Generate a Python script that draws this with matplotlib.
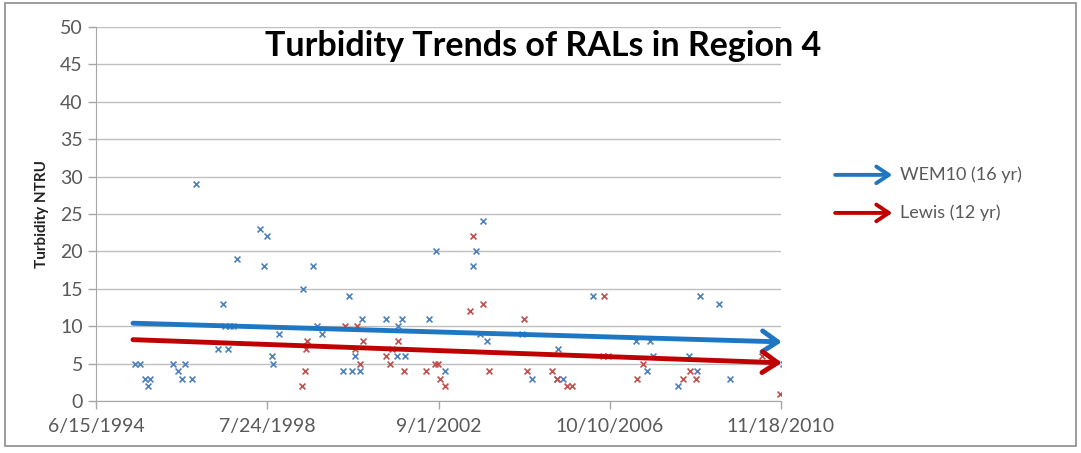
import datetime as dt
import matplotlib
matplotlib.use("Agg")
import matplotlib.pyplot as plt
from matplotlib.patches import Rectangle, FancyArrowPatch

# Datos (fecha en año decimal, turbidez NTU)
wem10_years = [1995.39, 1995.51, 1995.63, 1995.75, 1995.70, 1996.30, 1996.42, 1996.59,
               1996.52, 1996.76, 1996.85, 1997.50, 1997.38, 1997.62, 1997.55, 1997.67,
               1997.74, 1997.83, 1998.39, 1998.55, 1998.48, 1998.67, 1998.70, 1998.84,
               1999.42, 1999.66, 1999.75, 1999.87, 2000.52, 2000.38, 2000.59, 2000.78,
               2000.66, 2000.83, 2001.41, 2001.70, 2001.79, 2001.67, 2001.86, 2002.44,
               2002.61, 2002.82, 2003.49, 2003.57, 2003.73, 2003.66, 2003.83, 2004.67,
               2004.91, 2005.53, 2005.51, 2005.65, 2006.37, 2007.40, 2007.74, 2007.81,
               2007.67, 2008.41, 2008.67, 2008.87, 2008.94, 2009.39, 2009.66, 2010.93]
wem10_values = [5, 5, 3, 3, 2, 5, 4, 5,
                3, 3, 29, 13, 7, 7, 10, 10,
                10, 19, 23, 22, 18, 6, 5, 9,
                15, 18, 10, 9, 14, 4, 4, 4,
                6, 11, 11, 10, 11, 6, 6, 11,
                20, 4, 18, 20, 24, 9, 8, 9,
                3, 7, 3, 3, 14, 8, 8, 6,
                4, 2, 6, 4, 14, 13, 3, 5]

lewis_years = [1999.39, 1999.47, 1999.51, 1999.49, 2000.42, 2000.71, 2000.86, 2000.66,
               2000.78, 2001.41, 2001.50, 2001.55, 2001.70, 2001.84, 2002.37, 2002.58,
               2002.65, 2002.70, 2002.82, 2003.42, 2003.49, 2003.73, 2003.88, 2004.72,
               2004.79, 2005.39, 2005.51, 2005.75, 2005.87, 2006.64, 2006.61, 2006.73,
               2007.43, 2007.58, 2008.53, 2008.70, 2008.84, 2010.42, 2010.86]
lewis_values = [2, 4, 8, 7, 10, 10, 8, 7,
                5, 6, 5, 7, 8, 4, 4, 5,
                5, 3, 2, 12, 22, 13, 4, 11,
                4, 4, 3, 2, 2, 14, 6, 6,
                3, 5, 3, 4, 3, 6, 1]

# Tendencias (inicio, fin)
trend_years = [1995.34, 2010.90]
wem10_trend = [10.4, 7.9]
lewis_trend = [8.2, 5.1]

tick_dates = ["1994-06-15", "1998-07-24", "2002-09-01", "2006-10-10", "2010-11-18"]
tick_labels = ["6/15/1994", "7/24/1998", "9/1/2002", "10/10/2006", "11/18/2010"]
legend_labels = ["WEM10 (16 yr)", "Lewis (12 yr)"]

BLUE_PTS = "#4f81bd"
RED_PTS = "#c0504d"
BLUE_ARR = "#1f77c4"
RED_ARR = "#c00000"
GREY = "#595959"


def to_date(y):
    year = int(y)
    return dt.datetime(year, 1, 1) + dt.timedelta(days=(y - year) * 365.25)


plt.rcParams["font.family"] = ["Lato", "DejaVu Sans"]

fig = plt.figure(figsize=(10.81, 4.53), dpi=100)
ax = fig.add_axes([0.0888, 0.1148, 0.6337, 0.8256])

ax.scatter([to_date(y) for y in wem10_years], wem10_values, marker="x",
           s=18, linewidths=1.2, color=BLUE_PTS, zorder=3)
ax.scatter([to_date(y) for y in lewis_years], lewis_values, marker="x",
           s=18, linewidths=1.2, color=RED_PTS, zorder=3)

# flechas de tendencia
for trend, col in [(wem10_trend, BLUE_ARR), (lewis_trend, RED_ARR)]:
    ax.annotate("", xy=(to_date(trend_years[1]), trend[1]),
                xytext=(to_date(trend_years[0]), trend[0]),
                arrowprops=dict(arrowstyle="->,head_length=1.1,head_width=0.75",
                                lw=3.5, color=col, shrinkA=0, shrinkB=0),
                annotation_clip=False, zorder=4)

xt = [dt.datetime.strptime(d, "%Y-%m-%d") for d in tick_dates]
ax.set_xlim(xt[0], xt[-1])
ax.set_xticks(xt)
ax.set_xticklabels(tick_labels)
ax.set_ylim(0, 50)
ax.set_yticks(range(0, 51, 5))

ax.grid(axis="y", color="#bfbfbf", lw=1)
ax.set_axisbelow(True)
for s in ["top", "right"]:
    ax.spines[s].set_visible(False)
for s in ["left", "bottom"]:
    ax.spines[s].set_color("#a6a6a6")
ax.tick_params(axis="both", colors="#a6a6a6", labelcolor=GREY, labelsize=14,
               length=6, width=1)
ax.tick_params(axis="x", pad=6)

ax.set_ylabel("Turbidity NTRU", fontsize=11, fontweight="bold", color="#222222",
              labelpad=8)

fig.text(0.502, 0.898, "Turbidity Trends of RALs in Region 4", ha="center",
         va="center", fontsize=24.5, fontweight="bold", color="black")

# Leyenda con flechas
for i, (lab, col) in enumerate(zip(legend_labels, [BLUE_ARR, RED_ARR])):
    yy = 0.614 - i * 0.084
    fig.patches.append(FancyArrowPatch(
        (0.770, yy), (0.828, yy), transform=fig.transFigure,
        arrowstyle="->,head_length=0.9,head_width=0.6", lw=2.8, color=col,
        mutation_scale=10))
    fig.text(0.833, yy, lab, ha="left", va="center", fontsize=13, color=GREY)

fig.patches.append(Rectangle((0.005, 0.015), 0.99, 0.978, transform=fig.transFigure,
                             fill=False, edgecolor="#8c8c8c", lw=1.2))

fig.savefig("out.png", dpi=100)
